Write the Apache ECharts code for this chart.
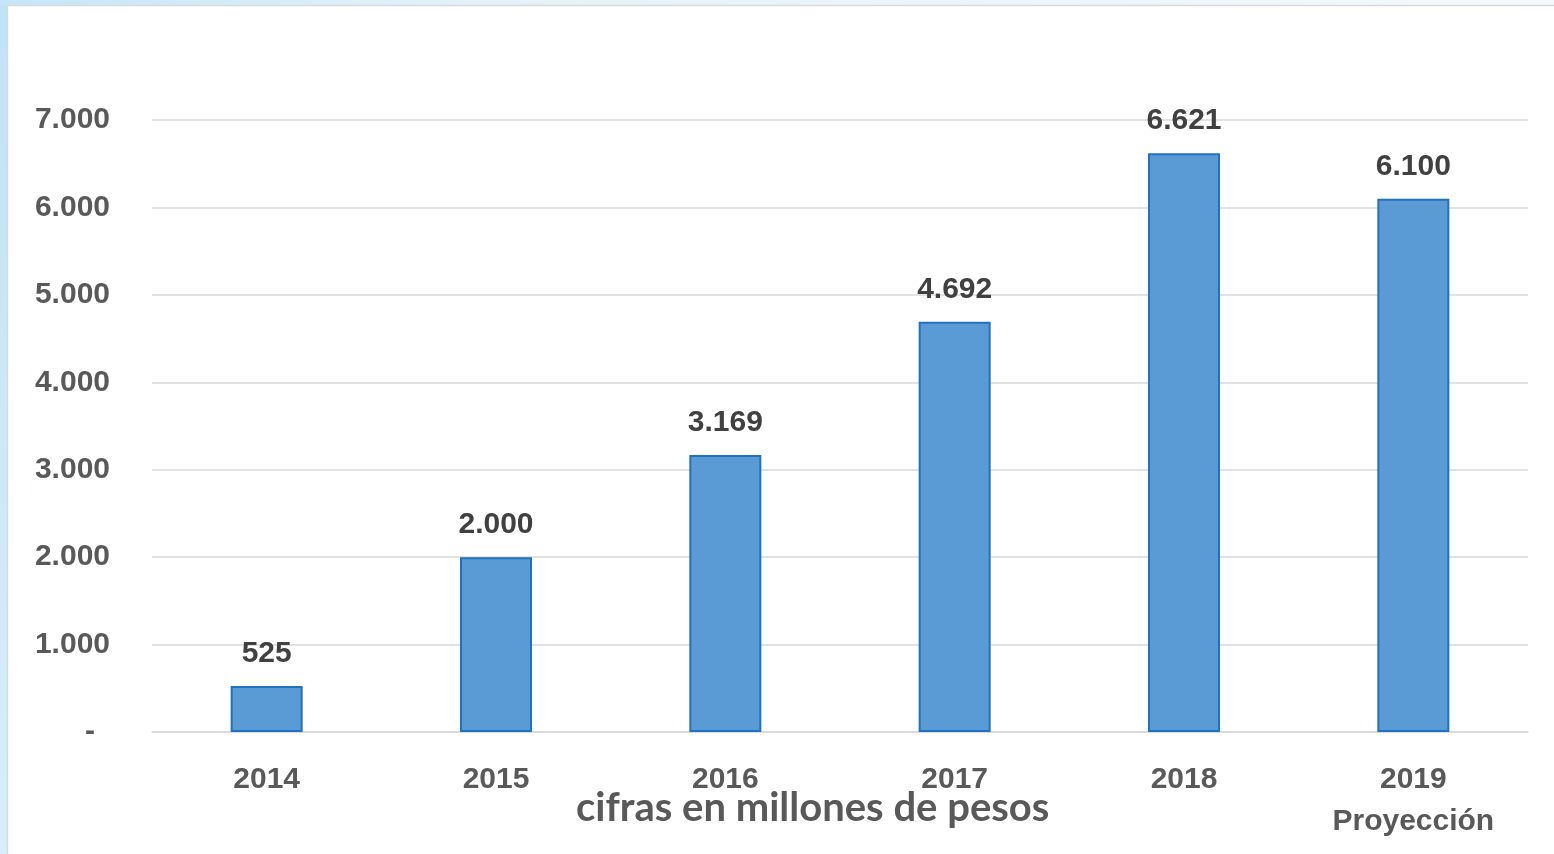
<!DOCTYPE html>
<html lang="es">
<head>
  <meta charset="utf-8">
  <title>Cifras en millones de pesos</title>
  <style>
    * { margin: 0; padding: 0; }
    html, body { width: 100%; height: 100%; background: #fff; }
    #chart-container { width: 1554px; height: 854px; }
  </style>
</head>
<body>
  <div id="chart-container"></div>
  <script src="https://fastly.jsdelivr.net/npm/echarts@6/dist/echarts.min.js"></script>
  <script>
    // datos
    var years = ['2014', '2015', '2016', '2017', '2018', '2019'];
    var values = [525, 2000, 3169, 4692, 6621, 6100];
    var yTicks = [0, 1000, 2000, 3000, 4000, 5000, 6000, 7000];

    function fmt(v) {
      return String(v).replace(/\B(?=(\d{3})+(?!\d))/g, '.');
    }

    var dom = document.getElementById('chart-container');
    var myChart = echarts.init(dom, null, { renderer: 'canvas' });

    var labelFont = '"Liberation Sans", Arial, sans-serif';

    var option = {
      backgroundColor: '#ffffff',
      animation: false,
      title: {
        text: 'cifras en millones de pesos',
        left: 571,
        top: 783,
        textStyle: {
          fontFamily: 'Lato, sans-serif',
          fontWeight: 'bold',
          fontSize: 40,
          color: '#595959'
        }
      },
      graphic: [
        {
          type: 'rect',
          shape: { x: 0, y: 0, width: 7, height: 854 },
          style: {
            fill: new echarts.graphic.LinearGradient(0, 0, 0, 1, [
              { offset: 0, color: '#bfe3f7' },
              { offset: 1, color: '#d6eefa' }
            ])
          },
          silent: true
        },
        {
          type: 'rect',
          shape: { x: 0, y: 0, width: 1554, height: 5 },
          style: {
            fill: new echarts.graphic.LinearGradient(0, 0, 1, 0, [
              { offset: 0, color: '#c4e6f8' },
              { offset: 0.3, color: '#e3f2fa' },
              { offset: 1, color: '#f4f9fc' }
            ])
          },
          silent: true
        },
        {
          type: 'line',
          shape: { x1: 7.5, y1: 5, x2: 7.5, y2: 854 },
          style: { stroke: '#d9d9d9', lineWidth: 1.5 },
          silent: true
        },
        {
          type: 'line',
          shape: { x1: 7, y1: 5.5, x2: 1554, y2: 5.5 },
          style: { stroke: '#d9d9d9', lineWidth: 1.5 },
          silent: true
        }
      ],
      grid: {
        left: 152,
        right: 26,
        top: 120,
        bottom: 122
      },
      xAxis: {
        type: 'category',
        data: years,
        axisLine: { lineStyle: { color: '#d9d9d9', width: 1.5 } },
        axisTick: { show: false },
        axisLabel: {
          margin: 27,
          fontFamily: labelFont,
          fontWeight: 'bold',
          fontSize: 30,
          color: '#595959',
          lineHeight: 42,
          formatter: function (v) {
            return v === '2019' ? v + '\nProyección' : v;
          }
        }
      },
      yAxis: {
        type: 'value',
        min: 0,
        max: yTicks[yTicks.length - 1],
        interval: yTicks[1] - yTicks[0],
        axisLine: { show: false },
        axisTick: { show: false },
        splitLine: { lineStyle: { color: '#d9d9d9', width: 1.5 } },
        axisLabel: {
          margin: 42,
          fontFamily: labelFont,
          fontWeight: 'bold',
          fontSize: 30,
          color: '#595959',
          formatter: function (v) {
            return v === 0 ? '{dash|-}' : fmt(v);
          },
          rich: {
            dash: {
              fontFamily: labelFont,
              fontWeight: 'bold',
              fontSize: 30,
              color: '#595959',
              padding: [0, 15, 0, 0]
            }
          }
        }
      },
      series: [
        {
          type: 'bar',
          data: values,
          barWidth: 72,
          itemStyle: {
            color: '#5b9bd5',
            borderColor: '#1f72c0',
            borderWidth: 2
          },
          label: {
            show: true,
            position: 'top',
            distance: 17,
            fontFamily: labelFont,
            fontWeight: 'bold',
            fontSize: 30,
            color: '#404040',
            formatter: function (p) { return fmt(p.value); }
          }
        }
      ]
    };

    myChart.setOption(option);
    window.addEventListener('resize', myChart.resize);
  </script>
</body>
</html>
